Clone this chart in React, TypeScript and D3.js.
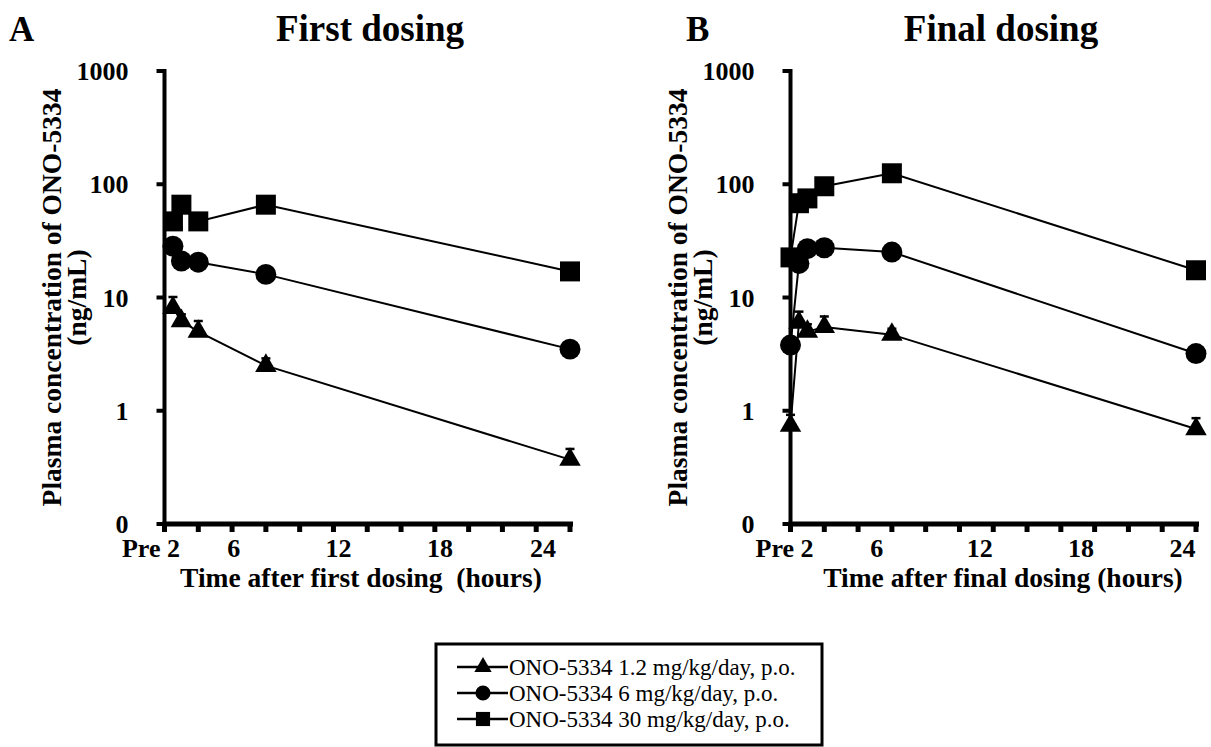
import React from "react";
import * as d3 from "d3";

// ---------- DATA ----------
const TIMES_FIRST = [0.5, 1, 2, 6, 24];
const FIRST_LOW = [8.1, 6.2, 5.0, 2.5, 0.37];
const FIRST_MID = [28.4, 21, 20.5, 16, 3.5];
const FIRST_HIGH = [47, 66, 47, 66, 17];
const FIRST_LOW_SD = [2.0, 0.9, 1.2, 0.4, 0.09];
const FIRST_MID_SD = [3, 2, 2, 2, 0.5];
const FIRST_HIGH_SD = [6, 8, 6, 8, 2];

const TIMES_FINAL = [0, 0.5, 1, 2, 6, 24];
const FINAL_LOW = [0.74, 6.0, 5.0, 5.5, 4.7, 0.69];
const FINAL_MID = [3.8, 20, 27, 27.5, 25.2, 3.2];
const FINAL_HIGH = [22.6, 68, 75, 96, 125, 17.4];
const FINAL_LOW_SD = [0.18, 1.5, 0.8, 1.3, 0.6, 0.17];
const FINAL_MID_SD = [0.5, 3, 3, 3, 3, 0.4];
const FINAL_HIGH_SD = [3, 8, 8, 10, 15, 2];

const Y_TICKS = [0.1, 1, 10, 100, 1000];
const Y_TICK_LABELS = ["0", "1", "10", "100", "1000"];
const X_MINOR_TICKS = d3.range(0, 25, 2);
const X_LABELS = ["Pre 2", "6", "12", "18", "24"];
// hand-placed label positions (in hours) as they appear on the original figure
const X_LABEL_POS_FIRST = [0.5, 4.1, 10.3, 16.3, 22.4];
const X_LABEL_POS_FINAL = [0.95, 5.1, 11.2, 17.2, 23.2];

const SERIES_NAMES = [
  "ONO-5334 1.2 mg/kg/day, p.o.",
  "ONO-5334 6 mg/kg/day, p.o.",
  "ONO-5334 30 mg/kg/day, p.o.",
];
const SHAPES = ["triangle", "circle", "square"];

const SERIF = "'Liberation Serif', 'Times New Roman', serif";

function markerPath(shape: string) {
  if (shape === "triangle") return d3.symbol(d3.symbolTriangle, 200)()!;
  if (shape === "circle") return d3.symbol(d3.symbolCircle, 345)()!;
  return d3.symbol(d3.symbolSquare, 400)()!;
}

type PanelProps = {
  x0: number;
  letter: string;
  letterX: number;
  title: string;
  titleX: number;
  xTitle: string;
  xTitleX: number;
  labelPos: number[];
  times: number[];
  series: number[][];
  sds: number[][];
};

const Y_TOP = 71;
const Y_BOT = 524;
const PLOT_W = 405.5;

function Panel(p: PanelProps) {
  const x = d3.scaleLinear().domain([0, 24]).range([p.x0, p.x0 + PLOT_W]);
  const y = d3.scaleLog().domain([0.1, 1000]).range([Y_BOT, Y_TOP]);
  const line = d3
    .line<[number, number]>()
    .x((d) => x(d[0]))
    .y((d) => y(d[1]));
  const labelCY = (Y_TOP + Y_BOT) / 2;
  return (
    <g>
      <text x={p.letterX} y={41} fontFamily={SERIF} fontWeight="bold" fontSize={35}>
        {p.letter}
      </text>
      <text x={p.titleX} y={41} fontFamily={SERIF} fontWeight="bold" fontSize={37} textAnchor="middle">
        {p.title}
      </text>
      {/* y axis label */}
      <g transform={`translate(${p.x0 - 104},${labelCY}) rotate(-90)`}>
        <text x={0} y={0} fontFamily={SERIF} fontWeight="bold" fontSize={27.5} textAnchor="middle">
          Plasma concentration of ONO-5334
        </text>
        <text x={0} y={25} fontFamily={SERIF} fontWeight="bold" fontSize={27.5} textAnchor="middle">
          (ng/mL)
        </text>
      </g>
      {/* y axis */}
      <line x1={p.x0} x2={p.x0} y1={Y_TOP - 2} y2={Y_BOT + 2} stroke="#000" strokeWidth={4} />
      {Y_TICKS.map((t, i) => (
        <g key={"yt" + i}>
          <line x1={p.x0 - 8} x2={p.x0} y1={y(t)} y2={y(t)} stroke="#000" strokeWidth={4} />
          <text
            x={p.x0 - 36}
            y={y(t)}
            dy="0.35em"
            textAnchor="end"
            fontFamily={SERIF}
            fontWeight="bold"
            fontSize={26}
          >
            {Y_TICK_LABELS[i]}
          </text>
        </g>
      ))}
      {/* x axis */}
      <line x1={p.x0 - 2} x2={x(24) + 3} y1={Y_BOT} y2={Y_BOT} stroke="#000" strokeWidth={5} />
      {X_MINOR_TICKS.map((t) => (
        <line key={"xt" + t} x1={x(t)} x2={x(t)} y1={Y_BOT} y2={Y_BOT + 8} stroke="#000" strokeWidth={5} />
      ))}
      {X_LABELS.map((l, i) => (
        <text
          key={"xl" + i}
          x={x(p.labelPos[i])}
          y={557}
          textAnchor={i === 0 ? "end" : "middle"}
          dx={i === 0 ? 7 : 0}
          fontFamily={SERIF}
          fontWeight="bold"
          fontSize={26}
        >
          {l}
        </text>
      ))}
      <text x={p.xTitleX} y={587} textAnchor="middle" fontFamily={SERIF} fontWeight="bold" fontSize={27.5} style={{ whiteSpace: "pre" }}>
        {p.xTitle}
      </text>
      {/* data */}
      {p.series.map((vals, si) => {
        const pts = p.times.map((t, i) => [t, vals[i]] as [number, number]);
        return (
          <g key={"s" + si}>
            <path d={line(pts)!} fill="none" stroke="#000" strokeWidth={2} />
            {pts.map((d, i) => (
              <line
                key={"e" + i}
                x1={x(d[0])}
                x2={x(d[0])}
                y1={y(d[1])}
                y2={y(d[1] + p.sds[si][i])}
                stroke="#000"
                strokeWidth={2}
              />
            ))}
            {pts.map((d, i) => (
              <line
                key={"c" + i}
                x1={x(d[0]) - 4.5}
                x2={x(d[0]) + 4.5}
                y1={y(d[1] + p.sds[si][i])}
                y2={y(d[1] + p.sds[si][i])}
                stroke="#000"
                strokeWidth={2.5}
              />
            ))}
            {pts.map((d, i) => (
              <path
                key={"m" + i}
                d={markerPath(SHAPES[si])}
                transform={`translate(${x(d[0])},${y(d[1])})`}
                fill="#000"
              />
            ))}
          </g>
        );
      })}
    </g>
  );
}

function Legend() {
  const rowY = d3.scaleLinear().domain([0, 1]).range([667, 693]);
  const legendMarker = (shape: string) => {
    if (shape === "triangle") return d3.symbol(d3.symbolTriangle, 130)()!;
    if (shape === "circle") return d3.symbol(d3.symbolCircle, 180)()!;
    return d3.symbol(d3.symbolSquare, 200)()!;
  };
  return (
    <g>
      <rect x={436} y={644} width={386} height={101} fill="#fff" stroke="#000" strokeWidth={3} />
      {SERIES_NAMES.map((n, i) => (
        <g key={"lg" + i}>
          <line x1={457} x2={508} y1={rowY(i)} y2={rowY(i)} stroke="#000" strokeWidth={2.5} />
          <path d={legendMarker(SHAPES[i])} transform={`translate(483,${rowY(i)})`} fill="#000" />
          <text x={509} y={rowY(i)} dy="0.35em" fontFamily={SERIF} fontSize={23}>
            {n}
          </text>
        </g>
      ))}
    </g>
  );
}

export default function App() {
  return (
    <svg
      width={1211}
      height={747}
      style={{ position: "absolute", left: 0, top: 0, background: "#fff" }}
    >
      <Panel
        x0={164.5}
        letter="A"
        letterX={9}
        title="First dosing"
        titleX={370}
        xTitle="Time after first dosing  (hours)"
        xTitleX={361}
        labelPos={X_LABEL_POS_FIRST}
        times={TIMES_FIRST}
        series={[FIRST_LOW, FIRST_MID, FIRST_HIGH]}
        sds={[FIRST_LOW_SD, FIRST_MID_SD, FIRST_HIGH_SD]}
      />
      <Panel
        x0={790.5}
        letter="B"
        letterX={686}
        title="Final dosing"
        titleX={1001}
        xTitle="Time after final dosing (hours)"
        xTitleX={1003}
        labelPos={X_LABEL_POS_FINAL}
        times={TIMES_FINAL}
        series={[FINAL_LOW, FINAL_MID, FINAL_HIGH]}
        sds={[FINAL_LOW_SD, FINAL_MID_SD, FINAL_HIGH_SD]}
      />
      <Legend />
    </svg>
  );
}
